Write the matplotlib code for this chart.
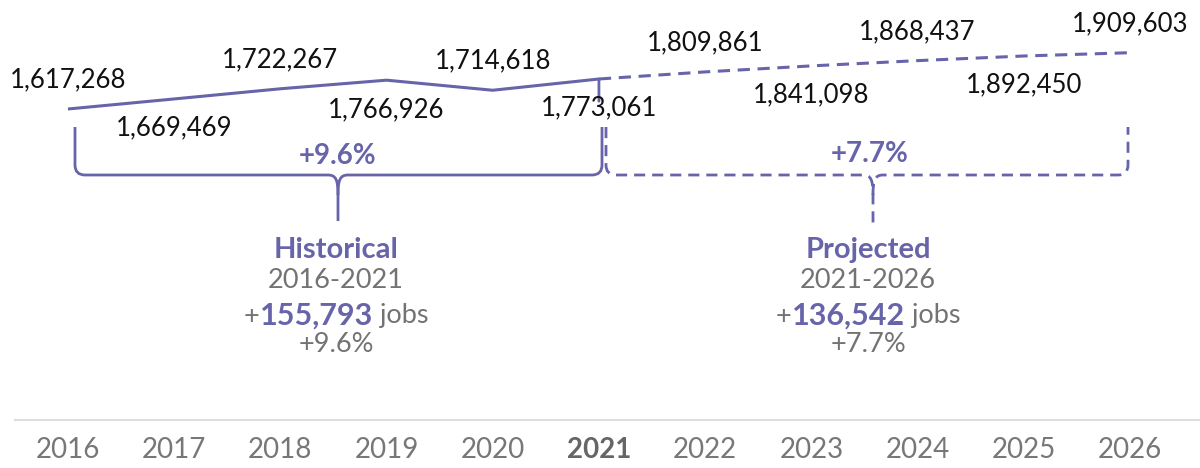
import matplotlib
matplotlib.use("Agg")
import matplotlib.pyplot as plt
from matplotlib.path import Path
from matplotlib.patches import PathPatch

plt.rcParams['font.family'] = ['Lato', 'DejaVu Sans']

# 数据
years = [2016, 2017, 2018, 2019, 2020, 2021, 2022, 2023, 2024, 2025, 2026]
jobs = [1617268, 1669469, 1722267, 1766926, 1714618, 1773061,
        1809861, 1841098, 1868437, 1892450, 1909603]
hist_years = years[:6]
hist_jobs = jobs[:6]
proj_years = years[5:]
proj_jobs = jobs[5:]

hist_change = 155793
hist_pct = "+9.6%"
proj_change = 136542
proj_pct = "+7.7%"

PURPLE = '#6764aa'
GREY = '#737373'

fig = plt.figure(figsize=(12, 4.68), dpi=100)
# 主坐标轴: 底边在 y=420px
ax = fig.add_axes([0, 48 / 468, 1, 420 / 468])
ax.set_xlim(2015.36, 2026.66)
ax.set_ylim(2522, 2183208)

ax.plot(hist_years, hist_jobs, color=PURPLE, lw=2.2, solid_capstyle='butt')
ax.plot(proj_years, proj_jobs, color=PURPLE, lw=2.2, ls=(0, (4, 2.5)))
# 2021 的小竖线
ax.annotate('', xy=(2021, jobs[5]), xytext=(0, -16), textcoords='offset points',
            arrowprops=dict(arrowstyle='-', color=PURPLE, lw=2, shrinkA=0, shrinkB=0))

for i, (yr, v) in enumerate(zip(years, jobs)):
    off = 21 if i % 2 == 0 else -21
    ax.annotate(f"{v:,}", (yr, v), xytext=(0, off), textcoords='offset points',
                ha='center', va='center', fontsize=18.5, color='#111111')

ax.set_xticks(years)
ax.set_xticklabels([str(y) for y in years])
for lbl in ax.get_xticklabels():
    lbl.set_fontsize(20)
    lbl.set_color('#777777')
    if lbl.get_text() == '2021':
        lbl.set_fontweight('bold')
        lbl.set_color('#666666')
ax.tick_params(axis='x', length=0, pad=12)
ax.set_yticks([])
for s in ['top', 'left', 'right']:
    ax.spines[s].set_visible(False)
ax.spines['bottom'].set_color('#dddddd')
ax.spines['bottom'].set_linewidth(1.5)
ax.spines['bottom'].set_bounds(2015.5, 2026.66)

# 注释层 (像素坐标)
ov = fig.add_axes([0, 0, 1, 1])
ov.set_xlim(0, 1200)
ov.set_ylim(468, 0)
ov.axis('off')


def bracket(x0, x1, xc, ytop, ybar, ytip, ls):
    verts = [(x0, ytop), (x0, ybar - 10), (x0, ybar), (x0 + 10, ybar),
             (xc - 10, ybar), (xc - 2, ybar), (xc, ybar + 5), (xc, ybar + 20), (xc, ytip)]
    codes = [Path.MOVETO, Path.LINETO, Path.CURVE3, Path.CURVE3,
             Path.LINETO, Path.CURVE4, Path.CURVE4, Path.CURVE4, Path.LINETO]
    verts2 = [(xc, ybar + 20), (xc, ybar + 5), (xc + 2, ybar), (xc + 10, ybar),
              (x1 - 10, ybar), (x1, ybar), (x1, ybar - 10), (x1, ytop)]
    codes2 = [Path.MOVETO, Path.CURVE4, Path.CURVE4, Path.CURVE4,
              Path.LINETO, Path.CURVE3, Path.CURVE3, Path.LINETO]
    for v, c in [(verts, codes), (verts2, codes2)]:
        ov.add_patch(PathPatch(Path(v, c), fill=False, edgecolor=PURPLE, lw=2, ls=ls))


bracket(75, 602, 338, 127, 175, 221, '-')
bracket(606, 1128, 873, 127, 175, 223, (0, (4, 2.5)))

ov.text(338, 156, hist_pct, ha='center', va='center', fontsize=20,
        fontweight='bold', color=PURPLE)
ov.text(870, 154, proj_pct, ha='center', va='center', fontsize=20,
        fontweight='bold', color=PURPLE)


def summary(xc, title, period, change, pct):
    ov.text(xc, 250, title, ha='center', va='center', fontsize=21,
            fontweight='bold', color=PURPLE)
    ov.text(xc, 281, period, ha='center', va='center', fontsize=19.5, color=GREY)
    ov.text(xc, 345, pct, ha='center', va='center', fontsize=19.5, color=GREY)
    parts = [('+', GREY, 'normal', 19.5), (f"{change:,}", PURPLE, 'bold', 22),
             (' jobs', GREY, 'normal', 19.5)]
    txts = [ov.text(0, 316, p, ha='left', va='center', fontsize=s, color=c, fontweight=w)
            for p, c, w, s in parts]
    r = fig.canvas.get_renderer()
    widths = [t.get_window_extent(r).width for t in txts]
    x = xc - sum(widths) / 2
    for t, w in zip(txts, widths):
        t.set_x(x)
        x += w


summary(336, 'Historical', '2016-2021', hist_change, '+9.6%')
summary(868, 'Projected', '2021-2026', proj_change, '+7.7%')

fig.savefig('out.png', dpi=100)
